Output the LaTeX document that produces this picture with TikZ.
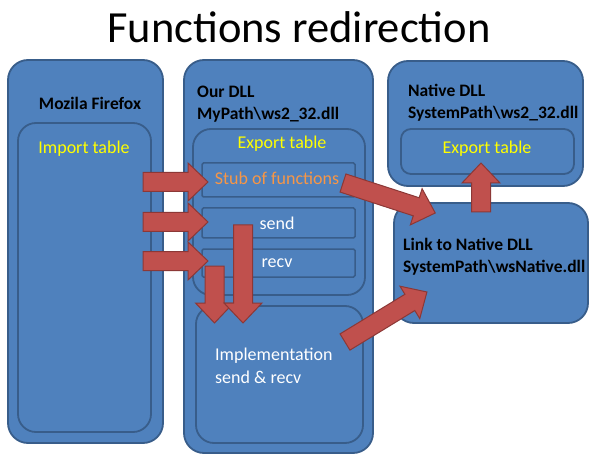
\documentclass[tikz,border=0pt]{standalone}
\usepackage{fontspec}
\setmainfont{Carlito}
\definecolor{boxfill}{HTML}{4F81BD}
\definecolor{boxline}{HTML}{385D8A}
\definecolor{arrfill}{HTML}{C0504D}
\definecolor{arrline}{HTML}{8C3836}
\definecolor{txtyellow}{HTML}{FFFF00}
\definecolor{txtorange}{HTML}{F79646}
\tikzset{
  box/.style={draw=boxline, fill=boxfill, line width=1.8pt, rounded corners=#1,
    anchor=north west, inner sep=0pt, outer sep=0pt},
  slot/.style={draw=boxline, fill=boxfill, line width=1.5pt, rounded corners=1.5pt,
    anchor=north west, inner sep=0pt, outer sep=0pt},
  blabel/.style={font=\fontsize{17.5}{22}\selectfont\bfseries, text=black, align=left, anchor=west, inner sep=0pt},
  ylabel/.style={font=\fontsize{18}{20}\selectfont, text=txtyellow, inner sep=0pt},
  wlabel/.style={font=\fontsize{18}{23}\selectfont, text=white, inner sep=0pt},
  arrowshape/.style={draw=arrline, fill=arrfill, line width=1pt, line join=miter},
  pics/barrow/.style={code={
    \draw[arrowshape] (0,-9.5) -- (#1-20,-9.5) -- (#1-20,-19) -- (#1,0) -- (#1-20,19) -- (#1-20,9.5) -- (0,9.5) -- cycle;}}
}
\begin{document}
\begin{tikzpicture}[x=1pt,y=-1pt]
\useasboundingbox (0,0) rectangle (599,462);
\fill[white] (0,0) rectangle (599,462);

\node[font=\fontsize{44.5}{50}\selectfont] (title) at (299,27) {Functions redirection};

% Mozila Firefox
\node[box=20pt, minimum width=155pt, minimum height=383pt] (ff) at (8,60) {};
\node[box=18pt, minimum width=133pt, minimum height=309pt] (imp) at (18,123) {};
\node[blabel, anchor=center] (fflabel) at (90,103) {Mozila Firefox};
\node[ylabel] (implabel) at (84,149) {Import table};

% Our DLL
\node[box=20pt, minimum width=189pt, minimum height=393pt] (our) at (184,60) {};
\node[box=18pt, minimum width=172pt, minimum height=166pt] (exp) at (193,129) {};
\node[slot, minimum width=153pt, minimum height=34pt] (stub) at (202,163) {};
\node[slot, minimum width=153pt, minimum height=30pt] (send) at (202,208) {};
\node[slot, minimum width=153pt, minimum height=28pt] (recv) at (202,249) {};
\node[box=18pt, minimum width=167pt, minimum height=137pt] (impl) at (196,306) {};
\node[blabel] (ourlabel) at (197,104) {Our DLL\\MyPath\textbackslash ws2\_32.dll};
\node[ylabel] (explabel) at (282,144) {Export table};
\node[font=\fontsize{18}{20}\selectfont, text=txtorange, inner sep=0pt] (stublabel) at (277,178) {Stub of functions};
\node[wlabel] (sendlabel) at (277,223) {send};
\node[wlabel] (recvlabel) at (277,263) {recv};
\node[wlabel, align=left, anchor=west] (impllabel) at (215,366) {Implementation\\send \& recv};

% Native DLL
\node[box=20pt, minimum width=195pt, minimum height=125pt] (nat) at (388,61) {};
\node[box=10pt, minimum width=173pt, minimum height=45pt] (natexp) at (401,129) {};
\node[blabel] (natlabel) at (408,103) {Native DLL\\SystemPath\textbackslash ws2\_32.dll};
\node[ylabel] (natexplabel) at (487,149) {Export table};

% Link to Native DLL
\node[box=20pt, minimum width=194pt, minimum height=120pt] (link) at (394,203) {};
\node[blabel] (linklabel) at (403,257) {Link to Native DLL\\SystemPath\textbackslash wsNative.dll};

% block arrows
\pic at (143,182) {barrow=65};
\pic at (143,222) {barrow=65};
\pic at (143,261) {barrow=65};
\pic[rotate=-90] at (214.5,266) {barrow=57};
\pic[rotate=-90] at (243,225) {barrow=98};
\pic[rotate=-18] at (343,183) {barrow=97};
\pic[rotate=31.4] at (345,342) {barrow=96};
\pic[rotate=90] at (481,212) {barrow=49};
\end{tikzpicture}
\end{document}
